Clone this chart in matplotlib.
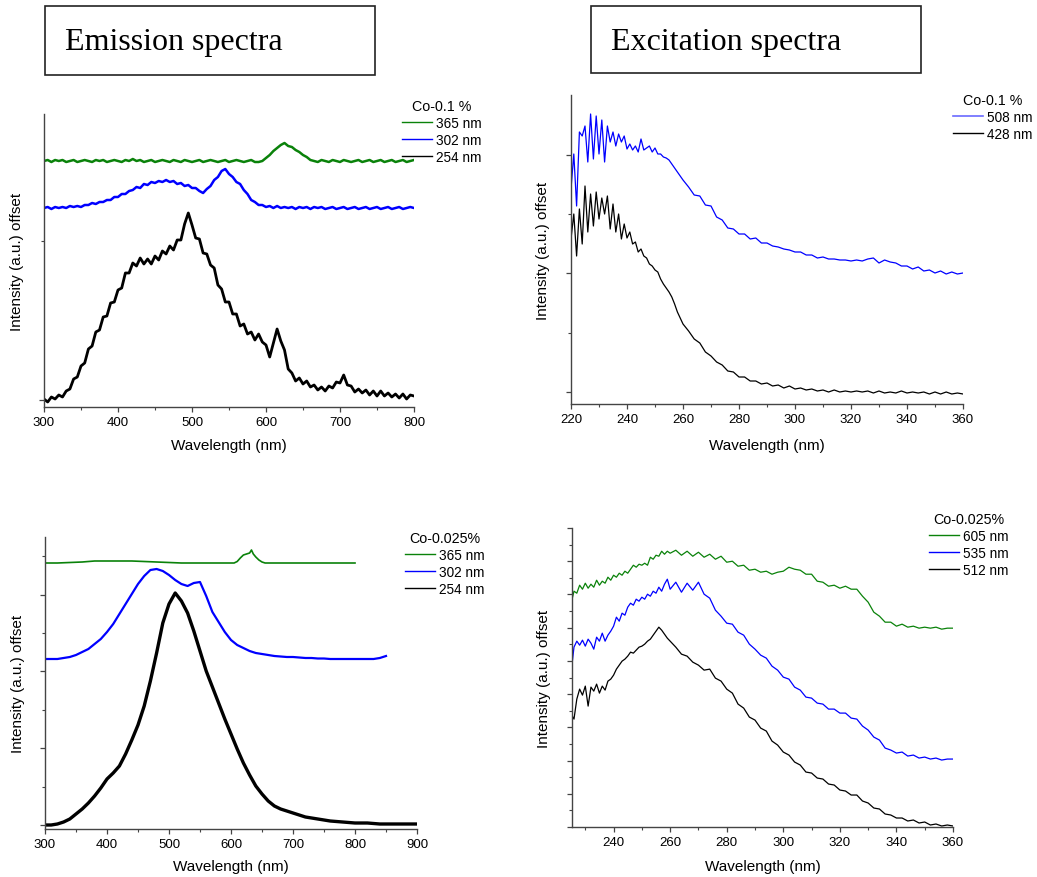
import numpy as np
import matplotlib
matplotlib.use("Agg")
import matplotlib.pyplot as plt
from matplotlib.patches import Rectangle
from matplotlib.lines import Line2D

plt.rcParams['font.family'] = ['Liberation Sans', 'DejaVu Sans']

# ---------------- data ----------------
# Emission spectra, Co-0.1 %  (excitation wavelengths 365 / 302 / 254 nm)
em1_wl = np.arange(300, 801, 5)
em1_365 = [246, 247, 245, 247, 246, 247, 245, 246, 247, 245,
           246, 247, 246, 245, 247, 246, 247, 245, 246, 247,
           246, 245, 247, 246, 248, 246, 247, 245, 246, 247,
           245, 246, 247, 246, 245, 247, 246, 245, 247, 246,
           245, 246, 247, 245, 246, 247, 246, 245, 246, 247,
           245, 246, 247, 246, 245, 246, 247, 245, 245, 246,
           249, 252, 256, 259, 262, 264, 261, 260, 257, 255,
           252, 250, 247, 246, 245, 247, 246, 245, 247, 246,
           245, 247, 246, 245, 246, 247, 245, 246, 247, 245,
           246, 247, 245, 246, 247, 245, 246, 247, 245, 246,
           247]
em1_302 = [199, 200, 198, 200, 199, 200, 199, 201, 200, 201,
           200, 202, 202, 204, 203, 205, 205, 207, 207, 210,
           210, 213, 213, 216, 217, 220, 219, 223, 222, 225,
           224, 226, 225, 227, 225, 226, 223, 224, 221, 222,
           219, 219, 216, 214, 218, 221, 227, 230, 236, 238,
           233, 230, 225, 223, 217, 213, 207, 205, 202, 202,
           200, 201, 199, 201, 199, 200, 199, 200, 198, 200,
           199, 200, 198, 200, 199, 200, 198, 199, 200, 198,
           199, 200, 198, 199, 200, 198, 199, 200, 198, 199,
           200, 198, 199, 200, 198, 199, 200, 198, 199, 200,
           199]
em1_254 = [8, 5, 10, 8, 12, 10, 16, 18, 28, 30,
           41, 44, 58, 61, 75, 77, 90, 91, 104, 105,
           117, 119, 134, 134, 144, 141, 149, 143, 148, 143,
           151, 147, 156, 153, 161, 157, 167, 167, 183, 194,
           182, 169, 168, 154, 153, 142, 139, 122, 118, 105,
           105, 93, 93, 81, 83, 73, 75, 67, 73, 65,
           62, 50, 64, 78, 66, 57, 38, 34, 26, 29,
           23, 26, 20, 22, 17, 20, 16, 21, 19, 25,
           24, 32, 22, 21, 15, 18, 14, 17, 12, 16,
           11, 16, 11, 14, 10, 13, 9, 13, 8, 12,
           11]

# Excitation spectra, Co-0.1 %  (emission monitored at 508 / 428 nm)
ex1_wl = np.concatenate([np.arange(220, 261), np.arange(262, 361, 2)])
ex1_508 = [215, 250, 198, 272, 268, 278, 242, 290, 245, 288,
           250, 284, 242, 278, 262, 272, 258, 270, 262, 268,
           255, 260, 254, 258, 252, 265, 254, 256, 258, 252,
           256, 250, 250, 247, 246, 244, 240, 236, 232, 228,
           224,
           217, 209, 208, 199, 198, 187, 184, 176, 175, 170,
           170, 165, 166, 161, 161, 158, 157, 155, 154, 152,
           152, 149, 149, 146, 147, 145, 145, 144, 144, 143,
           144, 143, 145, 146, 141, 144, 142, 141, 138, 138,
           135, 137, 133, 134, 131, 133, 130, 132, 130, 131]
ex1_428 = [165, 190, 148, 195, 160, 218, 172, 210, 178, 212,
           185, 206, 190, 208, 175, 200, 172, 190, 165, 180,
           166, 172, 160, 162, 152, 155, 148, 146, 140, 138,
           134, 132, 125, 120, 116, 112, 107, 100, 92, 86,
           80,
           73, 65, 61, 52, 48, 42, 39, 33, 32, 27,
           27, 23, 23, 20, 21, 18, 19, 16, 18, 15,
           16, 14, 15, 13, 14, 12, 14, 12, 13, 12,
           13, 12, 13, 11, 13, 11, 12, 11, 13, 11,
           12, 11, 12, 10, 12, 10, 12, 10, 11, 10]

# Emission spectra, Co-0.025 %
em2_wl_365 = [300, 320, 340, 360, 380, 400, 420, 440, 460, 480,
              500, 520, 540, 560, 580, 600, 605, 610, 615, 620,
              625, 630, 633, 636, 640, 645, 650, 655, 660, 680,
              700, 720, 740, 760, 780, 800]
em2_365 = [266, 266, 266.5, 267, 268, 268, 268, 268, 267.5, 267,
           266.5, 266, 266, 266, 266, 266, 266, 267.5, 271, 274,
           275, 276, 279, 275, 272, 269, 267, 266, 266, 266,
           266, 266, 266, 266, 266, 266]
em2_wl_302 = np.arange(300, 851, 10)
em2_302 = [170, 170, 170, 171, 172, 174, 177, 180, 185, 190,
           197, 205, 215, 225, 235, 245, 253, 259, 260, 258,
           254, 249, 245, 243, 246, 247, 233, 217, 207, 197,
           189, 184, 181, 178, 176, 175, 174, 173, 172.5, 172,
           172, 171.5, 171, 171, 170.5, 170.5, 170, 170, 170, 170,
           170, 170, 170, 170, 171, 173]
em2_wl_254 = np.arange(300, 901, 10)
em2_254 = [4, 4, 5, 7, 10, 15, 20, 26, 33, 41,
           50, 56, 63, 75, 89, 104, 123, 148, 176, 206,
           225, 236, 228, 216, 198, 178, 158, 142, 126, 110,
           95, 80, 66, 54, 43, 35, 28, 23, 20, 18,
           16, 14, 12, 11, 10, 9, 8, 7.5, 7, 6.5,
           6, 6, 6, 5.5, 5, 5, 5, 5, 5, 5,
           5]

# Excitation spectra, Co-0.025 %  (emission monitored at 605 / 535 / 512 nm)
ex2_wl = np.concatenate([np.arange(225, 260), np.arange(260, 361, 2)])
ex2_605 = [224, 236, 234, 242, 238, 244, 239, 243, 240, 247,
           242, 246, 244, 250, 247, 252, 250, 254, 252, 256,
           254, 258, 262, 260, 263, 262, 264, 262, 270, 268,
           272, 271, 276, 273, 276,
           274, 277, 272, 276, 271, 275, 270, 273, 268, 271,
           265, 266, 261, 262, 257, 258, 255, 256, 253, 255,
           256, 260, 258, 257, 253, 253, 246, 245, 241, 242,
           239, 241, 238, 238, 231, 225, 215, 211, 205, 205,
           201, 203, 200, 201, 199, 200, 199, 200, 198, 199,
           199]
ex2_535 = [155, 180, 186, 182, 187, 181, 188, 184, 178, 190,
           186, 194, 186, 192, 196, 201, 210, 206, 214, 212,
           220, 224, 222, 228, 226, 230, 228, 233, 231, 236,
           234, 240, 236, 243, 248,
           238, 245, 235, 244, 237, 245, 233, 229, 217, 211,
           204, 203, 195, 192, 183, 178, 172, 169, 161, 157,
           150, 148, 140, 137, 130, 129, 124, 123, 118, 118,
           114, 114, 109, 108, 101, 97, 90, 87, 79, 77,
           74, 75, 71, 72, 69, 70, 68, 69, 67, 68,
           68]
ex2_512 = [113, 108, 128, 138, 132, 141, 121, 140, 136, 143,
           134, 141, 137, 146, 148, 152, 158, 162, 166, 168,
           171, 175, 174, 177, 180, 181, 183, 186, 188, 192,
           196, 200, 197, 193, 189,
           186, 180, 173, 171, 165, 162, 157, 158, 149, 146,
           138, 134, 123, 119, 110, 107, 99, 96, 86, 82,
           75, 72, 65, 62, 55, 54, 49, 48, 43, 42,
           37, 36, 32, 32, 26, 24, 19, 18, 13, 12,
           9, 9, 6, 7, 4, 5, 2, 3, 1, 2,
           1]

GREEN = '#0a820a'
BLUE = '#0000ff'
BLACK = '#000000'
SPINE = '#444444'

# ---------------- layout ----------------
W, H = 1037, 878
fig = plt.figure(figsize=(W / 100, H / 100), dpi=100)


def px_rect(l, t, r, b):
    return [l / W, 1 - b / H, (r - l) / W, (b - t) / H]


def style_axes(ax, xlim, ylim, xmajor, xminor, ymajor, yminor, px_box, ylab_x, xlab_y):
    l, t, r, b = px_box
    ax.set_xlim(*xlim)
    ax.set_ylim(*ylim)
    for s in ('top', 'right'):
        ax.spines[s].set_visible(False)
    for s in ('left', 'bottom'):
        ax.spines[s].set_color(SPINE)
        ax.spines[s].set_linewidth(1.0)
    ax.set_xticks(xmajor)
    ax.set_xticks(xminor, minor=True)
    ax.set_yticks(ymajor)
    ax.set_yticks(yminor, minor=True)
    ax.set_yticklabels([])
    ax.tick_params(axis='both', which='major', direction='out', length=3.5,
                   width=0.9, color=SPINE, labelsize=9.5, pad=3.0)
    ax.tick_params(axis='both', which='minor', direction='out', length=2,
                   width=0.8, color=SPINE)
    ax.set_xlabel('Wavelength (nm)', fontsize=11)
    ax.set_ylabel('Intensity (a.u.) offset', fontsize=11)
    ax.xaxis.set_label_coords(0.5, -(xlab_y - b) / (b - t))
    ax.yaxis.set_label_coords(-(l - ylab_x) / (r - l), 0.5)
    ax.xaxis.label.set_va('center')
    ax.yaxis.label.set_va('center')


def add_legend(ax, handles, labels, title, left_px, top_px):
    return ax.legend(handles, labels, title=title, loc='upper left',
                     bbox_to_anchor=(left_px / W, 1 - top_px / H),
                     bbox_transform=fig.transFigure, frameon=False,
                     fontsize=9.8, title_fontsize=10.3, borderpad=0,
                     handlelength=2.2, handletextpad=0.3, labelspacing=0.22,
                     borderaxespad=0)


# Title boxes
for (l, t, r, b, text, tx) in [(45, 7, 375, 76, 'Emission spectra', 65),
                               (591, 7, 921, 74, 'Excitation spectra', 611)]:
    fig.patches.append(Rectangle((l / W, 1 - b / H), (r - l) / W, (b - t) / H,
                                 transform=fig.transFigure, fill=False,
                                 edgecolor='#222222', linewidth=1.2))
    fig.text(tx / W, 1 - 50 / H, text, family='Liberation Serif', fontsize=23,
             ha='left', va='baseline')

# Panel: emission, Co-0.1 %
box1 = (44, 115, 414, 408)
ax1 = fig.add_axes(px_rect(*box1))
ax1.plot(em1_wl, em1_254, color=BLACK, lw=2.0)
ax1.plot(em1_wl, em1_302, color=BLUE, lw=1.8)
ax1.plot(em1_wl, em1_365, color=GREEN, lw=1.8)
style_axes(ax1, (300, 800), (0, 293), np.arange(300, 801, 100), np.arange(350, 800, 100),
           [7], [166], box1, 17, 446)
add_legend(ax1, [Line2D([], [], color=GREEN, lw=1), Line2D([], [], color=BLUE, lw=1),
                 Line2D([], [], color=BLACK, lw=1)],
           ['365 nm', '302 nm', '254 nm'], 'Co-0.1 %', 402, 100)

# Panel: excitation, Co-0.1 %
box2 = (571, 96, 963, 405)
ax2 = fig.add_axes(px_rect(*box2))
ax2.plot(ex1_wl, ex1_428, color=BLACK, lw=0.9)
ax2.plot(ex1_wl, ex1_508, color=BLUE, lw=0.9)
style_axes(ax2, (220, 360), (0, 309), np.arange(220, 361, 20), np.arange(230, 360, 20),
           [12, 131, 249], [71, 190], box2, 543, 446)
add_legend(ax2, [Line2D([], [], color='#6a6aff', lw=1.2), Line2D([], [], color=BLACK, lw=1)],
           ['508 nm', '428 nm'], 'Co-0.1 %', 953, 94)

# Panel: emission, Co-0.025 %
box3 = (45, 538, 417, 830)
ax3 = fig.add_axes(px_rect(*box3))
ax3.plot(em2_wl_254, em2_254, color=BLACK, lw=2.4)
ax3.plot(em2_wl_302, em2_302, color=BLUE, lw=1.6)
ax3.plot(em2_wl_365, em2_365, color=GREEN, lw=1.2)
style_axes(ax3, (300, 900), (0, 292), np.arange(300, 901, 100), np.arange(350, 900, 100),
           [4, 81, 158, 234], [42, 119, 196, 273], box3, 18, 867)
add_legend(ax3, [Line2D([], [], color=GREEN, lw=1), Line2D([], [], color=BLUE, lw=1),
                 Line2D([], [], color=BLACK, lw=1)],
           ['365 nm', '302 nm', '254 nm'], 'Co-0.025%', 405, 532)

# Panel: excitation, Co-0.025 %
box4 = (572, 529, 953, 828)
ax4 = fig.add_axes(px_rect(*box4))
ax4.plot(ex2_wl, ex2_512, color=BLACK, lw=0.9)
ax4.plot(ex2_wl, ex2_535, color=BLUE, lw=0.9)
ax4.plot(ex2_wl, ex2_605, color=GREEN, lw=0.9)
ymaj4 = np.arange(0, 300, 33.25)
style_axes(ax4, (225.3, 360), (0, 299), np.arange(240, 361, 20), np.arange(230, 360, 20),
           ymaj4, ymaj4[:-1] + 16.6, box4, 544, 867)
add_legend(ax4, [Line2D([], [], color=GREEN, lw=1), Line2D([], [], color=BLUE, lw=1),
                 Line2D([], [], color=BLACK, lw=1)],
           ['605 nm', '535 nm', '512 nm'], 'Co-0.025%', 929, 513)

fig.savefig('out.png', dpi=100)
